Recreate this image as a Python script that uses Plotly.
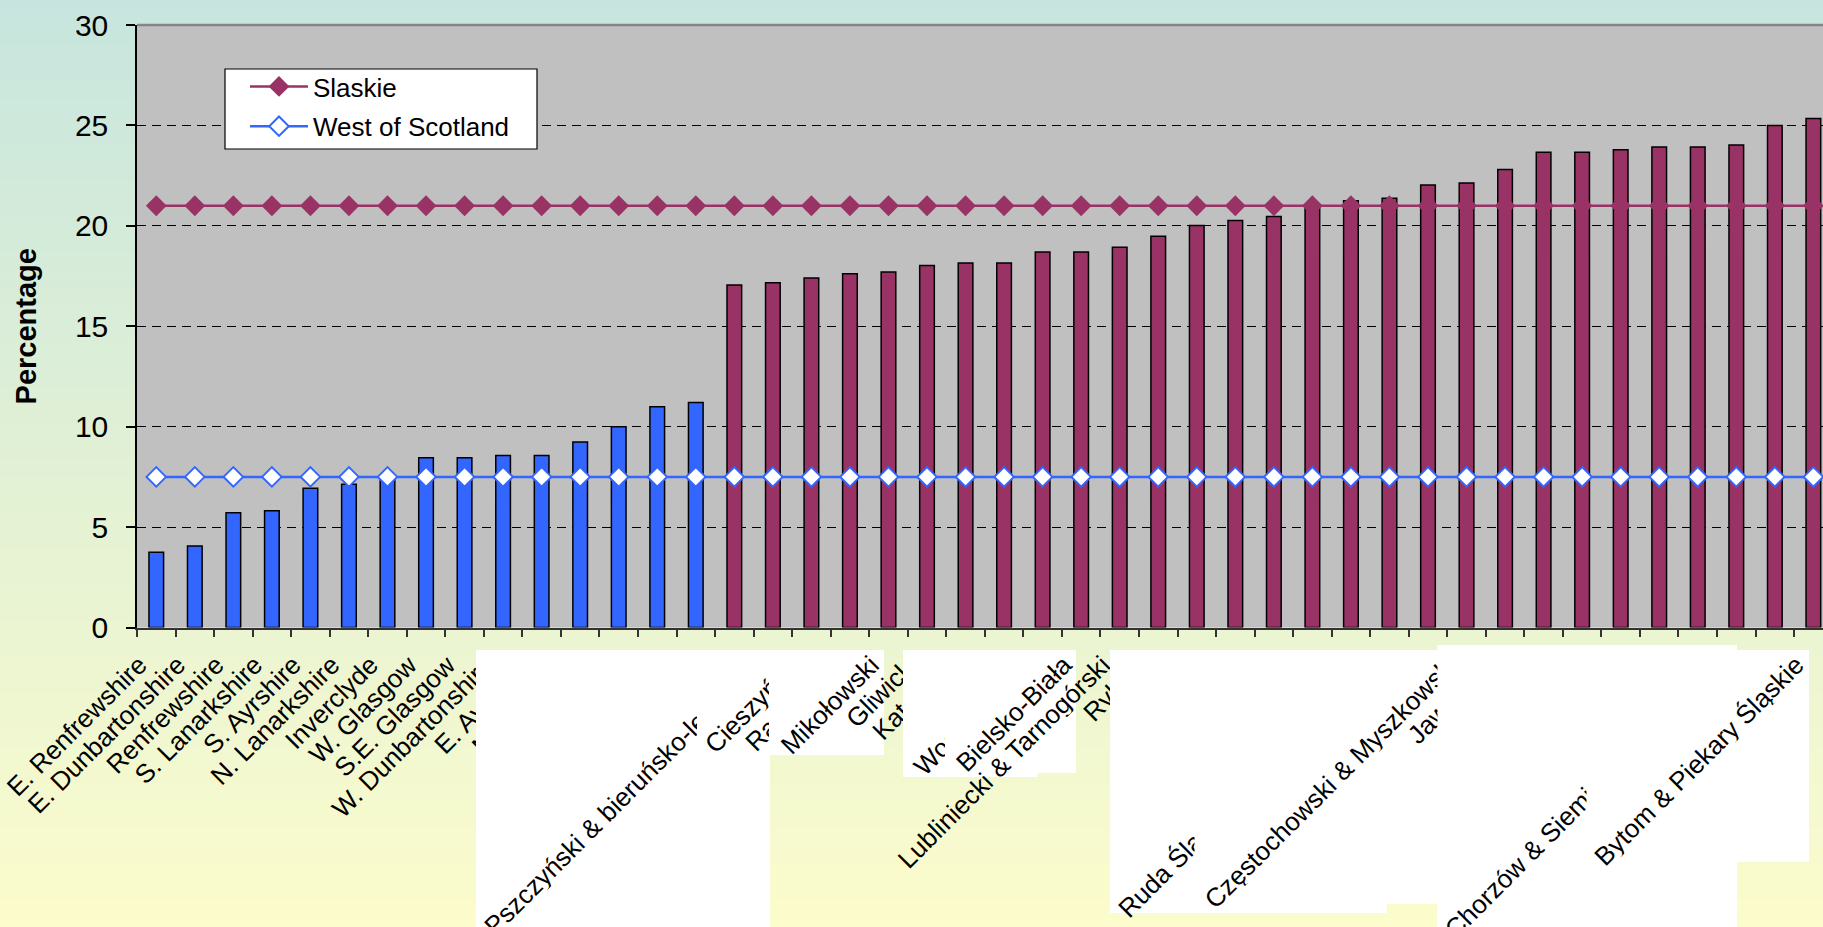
import plotly.graph_objects as go

# ---------------------------------------------------------------- data
scottish_areas = [
    "E. Renfrewshire", "E. Dunbartonshire", "Renfrewshire", "S. Lanarkshire",
    "S. Ayrshire", "N. Lanarkshire", "Inverclyde", "W. Glasgow", "S.E. Glasgow",
    "W. Dunbartonshire", "E. Ayrshire", "N. Ayrshire", "S.W. Glasgow",
    "N. Glasgow", "E. Glasgow",
]
scottish_pct = [3.75, 4.06, 5.71, 5.81, 6.93, 7.13, 7.45, 8.45, 8.45, 8.56,
                8.56, 9.24, 10.0, 10.99, 11.2]

slaskie_areas = [
    "Bielski", "Pszczyński & bieruńsko-lędziński", "Cieszyński", "Raciborski",
    "Mikołowski", "Gliwicki", "Katowice", "Żory", "Wodzisławski",
    "Bielsko-Biała", "Lubliniecki & Tarnogórski", "Rybnik", "Tychy", "Gliwice",
    "Żywiecki", "Kłobucki", "Sosnowiec", "Ruda Śląska & Świętochłowice",
    "Rybnicki", "Częstochowski & Myszkowski", "Jaworzno", "Mysłowice",
    "Częstochowa", "Jastrzębie-Zdrój", "Dąbrowa Górnicza",
    "Będziński & Zawierciański", "Chorzów & Siemianowice Śląskie", "Zabrze",
    "Bytom & Piekary Śląskie",
]
slaskie_pct = [17.05, 17.17, 17.40, 17.62, 17.70, 18.03, 18.15, 18.15, 18.70,
               18.70, 18.93, 19.48, 20.02, 20.26, 20.47, 20.9, 21.25, 21.37,
               22.03, 22.13, 22.8, 23.67, 23.67, 23.79, 23.92, 23.92, 24.02,
               25.0, 25.35]

# regional averages, one point per area
slaskie_avg = [21.0, 21.0, 21.0, 21.0, 21.0, 21.0, 21.0, 21.0, 21.0, 21.0, 21.0,
               21.0, 21.0, 21.0, 21.0, 21.0, 21.0, 21.0, 21.0, 21.0, 21.0, 21.0,
               21.0, 21.0, 21.0, 21.0, 21.0, 21.0, 21.0, 21.0, 21.0, 21.0, 21.0,
               21.0, 21.0, 21.0, 21.0, 21.0, 21.0, 21.0, 21.0, 21.0, 21.0, 21.0]
scotland_avg = [7.5, 7.5, 7.5, 7.5, 7.5, 7.5, 7.5, 7.5, 7.5, 7.5, 7.5,
                7.5, 7.5, 7.5, 7.5, 7.5, 7.5, 7.5, 7.5, 7.5, 7.5, 7.5,
                7.5, 7.5, 7.5, 7.5, 7.5, 7.5, 7.5, 7.5, 7.5, 7.5, 7.5,
                7.5, 7.5, 7.5, 7.5, 7.5, 7.5, 7.5, 7.5, 7.5, 7.5, 7.5]

y_ticks = [0, 5, 10, 15, 20, 25, 30]

categories = scottish_areas + slaskie_areas

# ---------------------------------------------------------------- geometry / style
W, H = 1823, 927
M_L, M_T = 137, 25
AXIS_BOTTOM_PX = 627.5
PW, PH = W - M_L, H - M_T
Y0 = (H - AXIS_BOTTOM_PX) / PH
X_END = 43.25
CAT_W = PW / (X_END + 0.5)

FONT = "Arial, 'Liberation Sans', sans-serif"
BLUE = "#3366FF"
MAROON = "#993366"
PLOT_GREY = "#C0C0C0"

TICK_FONT = dict(family=FONT, size=26, color="black")
TICK_SHIFT = -17
TICK_STANDOFF = 10
LABEL_DIAG = 631        # x+y (px) of a rotated label's cap line, minus its category centre
BAND_TOP = -3.5         # strip kept above the cap line ...
BAND_TOP_ACCENT = -8.5  # ... or above an accented capital
BAND_BOT = 35           # strip kept below the cap line (descenders included)
BAND_SPLIT = 35         # where a cut label hands over to the next readable one
SEAM = 1.5              # overlap between neighbouring white pieces
ACCENTED_CAPS = "ŚŻŹĆŃÓ"

LEGEND_BOX = (225, 69, 537, 149)   # pixel frame of the legend

# white panels laid over the category labels, pixel boxes (x0, y0, x1, y1)
label_panels = [(476, 650, 770, 927), (769, 650, 884, 755), (903, 650, 1037.5, 777),
                (1037, 650, 1076, 773), (1110, 650, 1386.5, 913),
                (1386, 650, 1437.5, 904), (1437.5, 645, 1737, 927),
                (1736.5, 650, 1809, 862)]
# labels that stay readable on the panels, with the x (px) where each is cut off
panel_windows = [
    ("Pszczyński & bieruńsko-lędziński", 697), ("Cieszyński", 769),
    ("Raciborski", 769), ("Mikołowski", None), ("Gliwicki", 903),
    ("Katowice", 903), ("Wodzisławski", 945), ("Bielsko-Biała", None),
    ("Lubliniecki & Tarnogórski", 1108), ("Ruda Śląska & Świętochłowice", 1194.5),
    ("Częstochowski & Myszkowski", 1437.5), ("Jaworzno", 1437.5),
    ("Chorzów & Siemianowice Śląskie", 1586.5), ("Bytom & Piekary Śląskie", None),
]


def cat_px(name):
    return M_L + (categories.index(name) + 0.5) * CAT_W


def p2x(px):
    return (px - M_L) / PW


def p2y(py):
    return (H - py) / PH


def rect(b):
    x0, y0, x1, y1 = b
    return [(x0, y0), (x1, y0), (x1, y1), (x0, y1)]


def clip(poly, a, b, c):
    """Keep the part of a convex polygon where a*x + b*y <= c."""
    out = []
    n = len(poly)
    for j in range(n):
        p, q = poly[j], poly[(j + 1) % n]
        fp = a * p[0] + b * p[1] - c
        fq = a * q[0] + b * q[1] - c
        if fp <= 0:
            out.append(p)
        if fp * fq < 0:
            t = fp / (fp - fq)
            out.append((p[0] + t * (q[0] - p[0]), p[1] + t * (q[1] - p[1])))
    return out


def diag_slice(poly, lo, hi):
    return clip(clip(poly, -1, -1, -lo), 1, 1, hi)


def readable_part(name, x_cut):
    # a label cut short only shows its leading words
    return name if x_cut is None else name.split(" & ")[0]


def panel_cover(box):
    """White pieces of a panel: everything except the readable label strips."""
    base = rect(box)
    s_min, s_max = box[0] + box[1], box[2] + box[3]
    strips = []
    for name, x_cut in panel_windows:
        top = cat_px(name) + LABEL_DIAG
        shown = readable_part(name, x_cut)
        above = BAND_TOP_ACCENT if any(ch in shown for ch in ACCENTED_CAPS) else BAND_TOP
        lo, hi = top + above, top + BAND_BOT
        if hi > s_min and lo < s_max:
            strips.append((lo, hi, top, x_cut))
    strips.sort()
    pieces = []
    prev = -1e9
    for j, (lo, hi, top, x_cut) in enumerate(strips):
        if lo > prev:
            pieces.append(diag_slice(base, prev - SEAM, lo + SEAM))
        if x_cut is not None and x_cut < box[2]:
            end = hi
            if j + 1 < len(strips) and strips[j + 1][0] < hi:
                end = min(hi, top + BAND_SPLIT)
            pieces.append(clip(diag_slice(base, lo - SEAM, end + SEAM), -1, 0, -x_cut))
        prev = max(prev, hi)
    pieces.append(diag_slice(base, prev - SEAM, 1e9))
    return [p for p in pieces if len(p) >= 3]


def path_of(poly):
    pts = ["%.5f,%.5f" % (p2x(x), p2y(y)) for x, y in poly]
    return "M" + " L".join(pts) + " Z"


# ---------------------------------------------------------------- traces
fig = go.Figure()
fig.add_trace(go.Bar(x=scottish_areas, y=scottish_pct, width=0.38,
                     marker=dict(color=BLUE, line=dict(color="black", width=1.5)),
                     showlegend=False, hoverinfo="x+y"))
fig.add_trace(go.Bar(x=slaskie_areas, y=slaskie_pct, width=0.38,
                     marker=dict(color=MAROON, line=dict(color="black", width=1.5)),
                     showlegend=False, hoverinfo="x+y"))
fig.add_trace(go.Scatter(x=categories, y=slaskie_avg, name="Slaskie",
                         mode="lines+markers", legendgroup="a",
                         line=dict(color=MAROON, width=2.5),
                         marker=dict(symbol="diamond", size=16, color=MAROON,
                                     line=dict(width=0))))
fig.add_trace(go.Scatter(x=categories, y=scotland_avg, name="West of Scotland",
                         mode="lines+markers", legendgroup="b",
                         line=dict(color=BLUE, width=2.5),
                         marker=dict(symbol="diamond", size=15, color="white",
                                     line=dict(color=BLUE, width=2))))

# ---------------------------------------------------------------- shapes
shapes = []
# page background: vertical teal-to-cream wash
N_BANDS = 103
top_c, bot_c = (199, 229, 222), (252, 252, 204)
for k in range(N_BANDS):
    t = (k + 0.5) / N_BANDS
    col = "rgb(%d,%d,%d)" % tuple(round(a + (b - a) * t) for a, b in zip(top_c, bot_c))
    py0 = k * H / N_BANDS
    py1 = (k + 1) * H / N_BANDS + 1
    shapes.append(dict(type="rect", xref="paper", yref="paper",
                       x0=-M_L / PW - 0.01, x1=1.01, y0=p2y(py1), y1=p2y(py0),
                       fillcolor=col, line=dict(width=0), layer="below"))
# plot area
shapes.append(dict(type="rect", xref="paper", yref="paper", x0=0, x1=1.01,
                   y0=Y0, y1=1, fillcolor=PLOT_GREY, line=dict(width=0),
                   layer="below"))
# panels: white ground beneath the labels, white cover pieces above them
for box in label_panels:
    shapes.append(dict(type="rect", xref="paper", yref="paper",
                       x0=p2x(box[0]), x1=p2x(box[2]), y0=p2y(box[3]), y1=p2y(box[1]),
                       fillcolor="white", line=dict(width=0), layer="below"))
for box in label_panels:
    for poly in panel_cover(box):
        shapes.append(dict(type="path", xref="paper", yref="paper",
                           path=path_of(poly), fillcolor="white",
                           line=dict(width=0), layer="above"))
# top border of the plot area
shapes.append(dict(type="line", xref="paper", yref="paper", x0=0, x1=1.01,
                   y0=1, y1=1, line=dict(color="#858585", width=2.5),
                   layer="above"))
# legend frame
lx0, ly0, lx1, ly1 = LEGEND_BOX
shapes.append(dict(type="rect", xref="paper", yref="paper",
                   x0=p2x(lx0), x1=p2x(lx1), y0=p2y(ly1), y1=p2y(ly0),
                   fillcolor="white", line=dict(color="black", width=1.2),
                   layer="above"))

# ---------------------------------------------------------------- layout
fig.update_layout(
    width=W, height=H, autosize=False,
    margin=dict(l=M_L, r=0, t=M_T, b=0, pad=0, autoexpand=False),
    paper_bgcolor="#fbfccc", plot_bgcolor="rgba(0,0,0,0)",
    barmode="overlay", font=dict(family=FONT, color="black"),
    shapes=shapes,
    showlegend=True,
    legend=dict(x=p2x(245), y=p2y(63), xanchor="left", yanchor="top",
                bgcolor="rgba(0,0,0,0)", borderwidth=0,
                font=dict(family=FONT, size=26, color="black"),
                itemwidth=58, traceorder="grouped", tracegroupgap=3),
    xaxis=dict(type="category", categoryorder="array", categoryarray=categories,
               range=[-0.5, X_END], domain=[0, 1],
               tickmode="array", tickvals=categories, ticktext=categories,
               tickangle=-45, tickfont=TICK_FONT, ticks="outside", ticklen=7,
               tickwidth=1.5, tickcolor="#333333", tickson="boundaries",
               showline=True, linewidth=2, linecolor="#333333",
               showgrid=False, zeroline=False, automargin=False,
               ticklabelshift=TICK_SHIFT, ticklabelstandoff=TICK_STANDOFF,
               fixedrange=True),
    yaxis=dict(domain=[Y0, 1], range=[0, 30], tickmode="array", tickvals=y_ticks,
               ticks="outside", ticklen=9, tickwidth=1.5, tickcolor="black",
               showline=True, linecolor="black", linewidth=1.5,
               showgrid=True, gridcolor="black", gridwidth=1, griddash="9px,6px",
               zeroline=False, automargin=False,
               tickfont=dict(family=FONT, size=30, color="black"),
               ticklabelstandoff=12,
               title=dict(text="Percentage", standoff=30,
                          font=dict(family=FONT, size=29, color="black",
                                    weight="bold")),
               fixedrange=True),
)

fig.write_html("out.html")
